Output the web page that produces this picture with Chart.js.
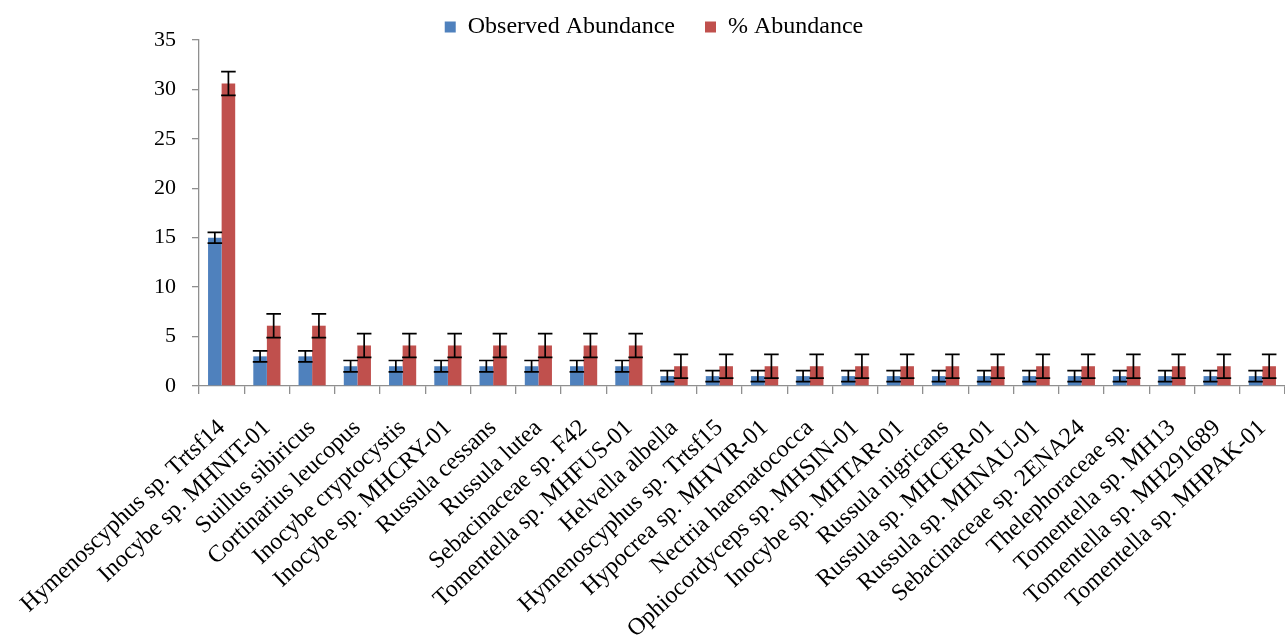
<!DOCTYPE html>
<html>
<head>
<meta charset="utf-8">
<title>Abundance</title>
<script src="https://cdn.jsdelivr.net/npm/chart.js@4.4.1/dist/chart.umd.min.js"></script>
<style>
  html, body { margin: 0; padding: 0; background: #fff; }
  #wrap { width: 1285px; height: 641px; position: relative; }
</style>
</head>
<body>
<div id="wrap"><canvas id="chart"></canvas></div>
<script>
// species on the x axis
var species = [
  "Hymenoscyphus sp. Trtsf14", "Inocybe sp. MHNIT-01", "Suillus sibiricus",
  "Cortinarius leucopus", "Inocybe cryptocystis", "Inocybe sp. MHCRY-01",
  "Russula cessans", "Russula lutea", "Sebacinaceae sp. F42",
  "Tomentella sp. MHFUS-01", "Helvella albella", "Hymenoscyphus sp. Trtsf15",
  "Hypocrea sp. MHVIR-01", "Nectria haematococca", "Ophiocordyceps sp. MHSIN-01",
  "Inocybe sp. MHTAR-01", "Russula nigricans", "Russula sp. MHCER-01",
  "Russula sp. MHNAU-01", "Sebacinaceae sp. 2ENA24", "Thelephoraceae sp.",
  "Tomentella sp. MH13", "Tomentella sp. MH291689", "Tomentella sp. MHPAK-01"
];

var observed = [15, 3, 3, 2, 2, 2, 2, 2, 2, 2, 1, 1, 1, 1, 1, 1, 1, 1, 1, 1, 1, 1, 1, 1];
var observedErr = [0.55, 0.55, 0.55, 0.58, 0.58, 0.58, 0.58, 0.58, 0.58, 0.58,
  0.55, 0.55, 0.55, 0.55, 0.55, 0.55, 0.55, 0.55, 0.55, 0.55, 0.55, 0.55, 0.55, 0.55];

var percent = [30.6, 6.1, 6.1, 4.1, 4.1, 4.1, 4.1, 4.1, 4.1, 4.1,
  2.0, 2.0, 2.0, 2.0, 2.0, 2.0, 2.0, 2.0, 2.0, 2.0, 2.0, 2.0, 2.0, 2.0];
var percentErr = [1.2, 1.2, 1.2, 1.2, 1.2, 1.2, 1.2, 1.2, 1.2, 1.2,
  1.2, 1.2, 1.2, 1.2, 1.2, 1.2, 1.2, 1.2, 1.2, 1.2, 1.2, 1.2, 1.2, 1.2];

var yTicks = [0, 5, 10, 15, 20, 25, 30, 35];

var axisGrey = "#8f8f8f";
var serif = "'Liberation Serif', 'Times New Roman', serif";

// draws the error bars from the bar elements and the y scale
var errorBars = {
  id: "errorBars",
  afterDatasetsDraw: function(chart) {
    var ctx = chart.ctx;
    var yScale = chart.scales.y;
    ctx.save();
    ctx.strokeStyle = "#000";
    ctx.lineWidth = 1.7;
    chart.data.datasets.forEach(function(ds, i) {
      var meta = chart.getDatasetMeta(i);
      meta.data.forEach(function(bar, j) {
        var v = ds.data[j], e = ds.errors[j];
        var top = yScale.getPixelForValue(v + e);
        var bot = yScale.getPixelForValue(v - e);
        var half = bar.width / 2 + 0.5;
        ctx.beginPath();
        ctx.moveTo(bar.x, top); ctx.lineTo(bar.x, bot);
        ctx.moveTo(bar.x - half, top); ctx.lineTo(bar.x + half, top);
        ctx.moveTo(bar.x - half, bot); ctx.lineTo(bar.x + half, bot);
        ctx.stroke();
      });
    });
    ctx.restore();
  }
};

new Chart(document.getElementById("chart"), {
  type: "bar",
  data: {
    labels: species,
    datasets: [{
      label: "Observed Abundance",
      data: observed,
      errors: observedErr,
      backgroundColor: "#4F81BD"
    }, {
      label: "% Abundance",
      data: percent,
      errors: percentErr,
      backgroundColor: "#C0504D"
    }]
  },
  options: {
    responsive: true,
    maintainAspectRatio: false,
    animation: false,
    datasets: { bar: { categoryPercentage: 0.6, barPercentage: 1.0 } },
    layout: { padding: { top: -15, right: -5, left: 18, bottom: 0 } },
    plugins: {
      tooltip: { enabled: false },
      legend: {
        position: "top",
        maxHeight: 55,
        labels: {
          boxWidth: 11, boxHeight: 11, padding: 30,
          color: "#000",
          font: { family: serif, size: 24 }
        }
      }
    },
    scales: {
      x: {
        afterFit: function(scale) {
          scale.height = 255;
          scale.paddingLeft = 0;
          scale.paddingRight = 0;
        },
        border: { color: axisGrey, width: 1.3 },
        grid: { offset: true, drawOnChartArea: false, drawTicks: true, tickLength: 8, color: axisGrey, lineWidth: 1.3 },
        ticks: {
          autoSkip: false, minRotation: 43, maxRotation: 43, padding: 20,
          color: "#000", font: { family: serif, size: 24 }
        }
      },
      y: {
        min: 0, max: 35,
        afterFit: function(scale) { scale.width = 181; },
        afterBuildTicks: function(scale) {
          scale.ticks = yTicks.map(function(v) { return { value: v }; });
        },
        border: { color: axisGrey, width: 1.3 },
        grid: { drawOnChartArea: false, drawTicks: true, tickLength: 7, color: axisGrey, lineWidth: 1.3 },
        ticks: { padding: 16, color: "#000", font: { family: serif, size: 22 } }
      }
    }
  },
  plugins: [errorBars]
});
</script>
</body>
</html>
